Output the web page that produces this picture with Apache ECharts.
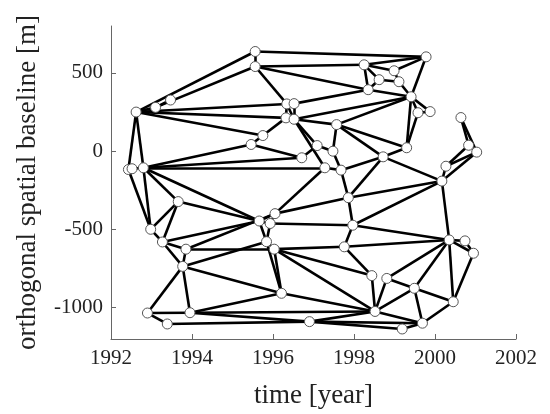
<!DOCTYPE html>
<html>
<head>
<meta charset="utf-8">
<script src="https://cdn.jsdelivr.net/npm/echarts@6/dist/echarts.min.js"></script>
<style>
  html, body { margin: 0; padding: 0; background: #fff; }
  #chart { width: 550px; height: 414px; }
</style>
</head>
<body>
<div id="chart"></div>
<script>
// acquisition time (decimal year) and perpendicular baseline [m] of each scene
var times = [
  1992.62, 1993.10, 1993.47, 1995.56, 1995.56, 1998.25, 1999.78, 1998.99,
  1998.62, 1999.11, 1998.35, 1999.41, 1999.58, 1999.88, 2000.64, 1996.34,
  1996.52, 1996.32, 1996.52, 1997.57, 1995.75, 1995.46, 1996.71, 1997.09,
  1997.48, 1997.28, 1997.68, 1997.86, 1999.30, 1998.72, 2000.83, 2001.03,
  2000.27, 2000.17, 1992.43, 1992.52, 1992.80, 1993.66, 1992.98, 1993.27,
  1993.85, 1993.77, 1992.90, 1993.95, 1993.39, 1996.05, 1995.66, 1995.93,
  1995.84, 1996.03, 1996.21, 1997.76, 1997.97, 1998.44, 1998.81, 1998.52,
  1996.90, 2000.35, 2000.74, 2000.95, 1999.49, 2000.45, 1999.69, 1999.19
];
var baselines = [
  250, 280, 327, 637, 541, 552, 603, 514,
  457, 444, 393, 348, 246, 253, 215, 302,
  304, 213, 204, 170, 100, 43, -42, 36,
  0, -106, -121, -297, 22, -36, 38, -6,
  -96, -191, -117, -112, -106, -322, -499, -580,
  -626, -736, -1034, -1032, -1104, -399, -446, -462,
  -578, -626, -908, -611, -473, -795, -813, -1024,
  -1089, -567, -573, -652, -876, -962, -1099, -1136
];
// interferometric pairs, 1-based scene numbers
var pairs = [
  [1,2],[2,3],[1,4],[2,5],[1,16],[1,18],[1,21],[1,35],[1,37],
  [4,5],[4,7],[5,6],[5,11],[5,16],[6,7],[6,11],[6,9],[6,8],[7,8],[7,12],
  [9,10],[9,11],[8,10],[10,12],[11,12],[12,13],[12,14],[13,14],[13,29],[12,29],
  [17,11],[16,17],[18,19],[16,18],[17,19],[16,19],[19,12],[19,20],[20,12],
  [20,29],[20,25],[20,30],[18,21],[21,22],[22,37],[22,23],[19,24],[19,26],
  [23,37],[26,37],[23,24],[24,25],[26,27],[25,27],[27,28],[26,46],[27,30],
  [28,30],[29,30],[30,34],[28,34],[28,53],[28,46],[34,53],[34,58],[33,34],[31,33],
  [32,33],[32,34],[15,31],[15,32],
  [35,36],[36,37],[35,39],[37,39],[37,38],[38,39],[38,40],[39,40],[37,47],[38,47],
  [40,41],[40,42],[41,42],[40,47],[41,46],[42,43],[42,44],[43,44],[43,45],
  [42,51],[44,51],[44,56],[44,57],[45,57],[42,49],[41,50],
  [46,47],[46,48],[47,48],[47,49],[48,49],[49,50],[49,51],[50,51],[48,53],[50,52],
  [50,54],[50,56],[51,56],[52,53],[52,54],[52,58],[53,58],[54,56],[55,56],[55,58],[55,61],
  [56,61],[56,63],[57,56],[57,63],[57,64],[58,59],[59,60],[58,60],[58,61],
  [58,62],[60,62],[61,62],[61,63],[62,63],[63,64]
];

var nodes = times.map(function (t, i) {
  return { name: 'n' + i, value: [t, baselines[i]] };
});
var links = pairs.map(function (p) {
  return { source: p[0] - 1, target: p[1] - 1 };
});

var chart = echarts.init(document.getElementById('chart'));
var font = '"Liberation Serif", "DejaVu Serif", serif';
var tickVals = [-1000, -500, 0, 500];
var plain = function (v) { return String(v); };
var option = {
  animation: false,
  grid: { left: 111, right: 34, top: 26, bottom: 74 },
  xAxis: {
    type: 'value',
    min: 1992,
    max: 2002,
    interval: 2,
    name: 'time [year]',
    nameLocation: 'middle',
    nameGap: 43,
    nameTextStyle: { fontFamily: font, fontSize: 27, color: '#222' },
    axisLine: { onZero: false, lineStyle: { color: '#666', width: 1 } },
    axisTick: { inside: true, length: 5, lineStyle: { color: '#666' } },
    axisLabel: { fontFamily: font, fontSize: 21, color: '#222', margin: 9, formatter: plain },
    splitLine: { show: false }
  },
  yAxis: {
    type: 'value',
    min: -1200,
    max: 800,
    interval: 100,
    name: 'orthogonal spatial baseline [m]',
    nameLocation: 'middle',
    nameGap: 70,
    nameTextStyle: { fontFamily: font, fontSize: 27, color: '#222' },
    axisLine: { show: true, onZero: false, lineStyle: { color: '#666', width: 1 } },
    axisTick: { show: true, inside: true, length: 5, customValues: tickVals, lineStyle: { color: '#666' } },
    axisLabel: { fontFamily: font, fontSize: 21, color: '#222', margin: 8, customValues: tickVals, formatter: plain },
    splitLine: { show: false }
  },
  series: [{
    type: 'graph',
    coordinateSystem: 'cartesian2d',
    data: nodes,
    links: links,
    symbol: 'circle',
    symbolSize: 10,
    itemStyle: { color: '#fff', borderColor: '#555', borderWidth: 1 },
    lineStyle: { color: '#000', width: 2.6, opacity: 1 },
    label: { show: false },
    emphasis: { disabled: true }
  }]
};
chart.setOption(option);
</script>
</body>
</html>
